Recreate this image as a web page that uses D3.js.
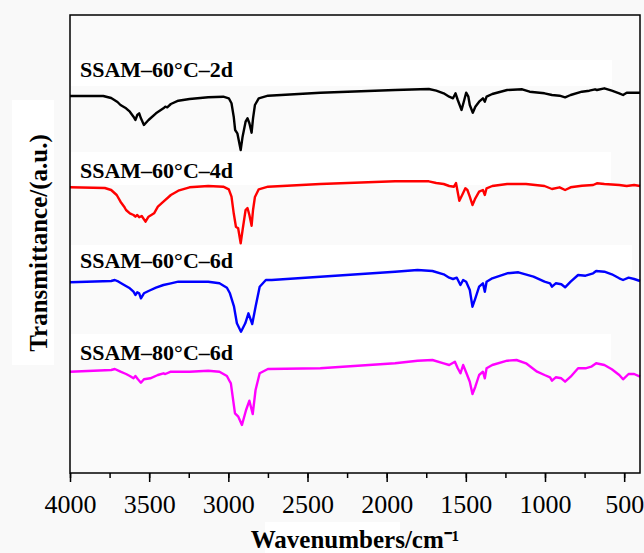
<!DOCTYPE html>
<html>
<head>
<meta charset="utf-8">
<script src="https://cdn.jsdelivr.net/npm/d3@7"></script>
<style>
  body { margin: 0; background: #f9f9f9; }
  svg { display: block; }
</style>
</head>
<body>
<svg id="ftir" width="644" height="553"></svg>
<script>
// FTIR spectra, [wavenumber (cm-1), transmittance (a.u., offset per curve)]
var names = ["SSAM\u201360\u00b0C\u20132d", "SSAM\u201360\u00b0C\u20134d", "SSAM\u201360\u00b0C\u20136d", "SSAM\u201380\u00b0C\u20136d"];
var colors = ["#000000", "#ff0000", "#0000ff", "#ff00ff"];
var xTicks = [4000, 3500, 3000, 2500, 2000, 1500, 1000, 500];

var spec2d = [[4000,404],[3790,404],[3740,402],[3700,398],[3681,395],[3646,391.7],[3622,388.3],[3599,383.3],[3587,380],[3575,385],[3563,386.7],[3552,381.7],[3533,375],[3504,380],[3457,386.7],[3410,391.7],[3398,393.3],[3386,392.7],[3363,396],[3316,399.3],[3245,401],[3127,402.7],[3032,403.3],[2997,401.7],[2980,396.7],[2966,383.3],[2957,370],[2943,366.7],[2922,350],[2910,363.3],[2891,378.3],[2879,381.7],[2867,376.7],[2853,367.3],[2844,381.7],[2832,395],[2808,401.7],[2749,404.3],[2419,407.3],[1947,410],[1734,411],[1687,409.3],[1640,406.7],[1605,403.3],[1581,401.7],[1565,406.7],[1551,400],[1527,390],[1510,400],[1498,407.3],[1484,403.3],[1475,395],[1456,387.3],[1440,393.3],[1416,398.3],[1392,401.7],[1380,398.3],[1369,403.3],[1333,406],[1239,410],[1144,410.7],[1097,408.3],[1003,406.7],[956,405],[908,404.3],[873,402.7],[838,405],[767,408.3],[720,409.3],[684,410.7],[672,410],[625,411.7],[578,409.3],[531,406.7],[507,405],[484,407.3],[400,407.3]];

var spec4d = [[4000,312.7],[3780,312],[3740,310],[3705,305],[3681,298.3],[3658,293.3],[3646,290],[3622,286.7],[3599,285],[3587,283.3],[3575,285],[3563,282.7],[3547,284],[3523,278.3],[3504,283.3],[3469,286.7],[3445,293.3],[3410,298.3],[3363,305],[3316,309.3],[3245,312.7],[3127,314],[3032,313.3],[2997,310.7],[2980,303.3],[2966,286.7],[2952,273.3],[2938,271.7],[2922,256.7],[2910,270],[2891,290],[2879,292],[2867,285],[2853,274.3],[2844,290],[2832,303],[2808,310.7],[2749,313.3],[2419,316],[1947,318.7],[1734,318.7],[1687,317],[1640,316],[1605,314],[1575,313.3],[1562,317],[1541,299.3],[1520,306],[1503,311.7],[1490,310],[1475,303.3],[1458,295],[1440,301.7],[1416,308.3],[1392,310],[1380,305],[1369,311.7],[1333,314],[1239,316],[1120,316],[1003,314],[956,311],[908,312.7],[873,310],[838,312.7],[767,314.3],[696,315],[672,316.7],[625,316],[531,315],[484,314],[437,315],[400,314]];

var spec6d = [[4000,217.7],[3740,219],[3717,220],[3693,218.3],[3658,215],[3622,211.7],[3599,208.3],[3587,205],[3575,207.7],[3563,206.7],[3552,201.7],[3533,206.7],[3504,209],[3457,212.3],[3410,215],[3363,216.7],[3316,218.3],[3245,218.3],[3127,218.3],[3056,216.7],[3009,212.3],[2990,206.7],[2964,193.3],[2946,176.7],[2920,168.3],[2893,176.7],[2873,186.7],[2849,176],[2828,193.3],[2802,213.3],[2763,220],[2726,220],[2419,223.3],[1947,228.3],[1805,230],[1711,229],[1640,225.7],[1605,222.3],[1581,221],[1557,222.3],[1534,215],[1517,220],[1498,218.3],[1475,210],[1458,193.3],[1440,201.7],[1416,213.3],[1392,216.7],[1380,208.3],[1369,218.3],[1333,221.7],[1239,226.7],[1168,227.7],[1073,223.3],[1003,218.3],[968,216.7],[956,213.3],[932,216.7],[897,215.7],[873,212.7],[838,218.3],[791,225],[744,224.3],[696,226.7],[677,229],[625,228.3],[578,225.7],[531,221.7],[507,220],[472,222.3],[437,221],[400,219]];

var spec80 = [[4000,128.3],[3740,130],[3717,131],[3681,128.3],[3646,126],[3622,124],[3599,121.7],[3587,124],[3571,120.7],[3552,117.3],[3533,120.7],[3493,121.7],[3445,125],[3410,126.7],[3398,126],[3363,128.3],[3245,128.3],[3127,129.3],[3056,128.3],[3009,124],[2990,118.3],[2984,116.7],[2958,86.7],[2937,83.3],[2914,75],[2888,90],[2867,99.3],[2846,86],[2828,110],[2802,126.7],[2750,131],[2419,131.7],[1947,136.7],[1805,139.3],[1711,140],[1640,136.7],[1605,135],[1569,138.3],[1551,131.7],[1534,126.7],[1517,135],[1494,126],[1475,118.3],[1458,106],[1440,113.3],[1416,125],[1392,128.3],[1380,121.7],[1369,131.7],[1333,135],[1239,139.3],[1180,140],[1120,136.7],[1050,128.3],[1003,125],[968,122.7],[956,119.3],[932,122.7],[897,121.7],[873,118.3],[838,123.3],[791,131.7],[744,131.7],[708,133.3],[677,136.7],[625,135],[578,130.7],[531,125],[507,120.7],[472,126],[437,126],[400,123.3]];

var spectra = [spec2d, spec4d, spec6d, spec80];

var svg = d3.select("#ftir");
var margin = {left: 70, right: 4, top: 15, bottom: 80};
var width = 644, height = 553;

var x = d3.scaleLinear()
          .domain([4000, 400])
          .range([margin.left, width - margin.right]);
var y = d3.scaleLinear()
          .domain([27, 485])
          .range([height - margin.bottom, margin.top]);

// plot background
svg.append("rect")
    .attr("x", margin.left)
    .attr("y", margin.top)
    .attr("width", width - margin.right - margin.left)
    .attr("height", height - margin.bottom - margin.top)
    .attr("fill", "#fafafa");

// white boxes behind the sample names
var boxes = [
  {y0: 60, y1: 86, x1: 612},
  {y0: 152, y1: 185, x1: 611},
  {y0: 245, y1: 270, x1: 632},
  {y0: 334, y1: 360, x1: 611}
];
var labelBase = [77, 178, 268, 360];

svg.selectAll(".label-box")
  .data(boxes)
  .enter()
  .append("rect")
    .classed("label-box", true)
    .attr("x", margin.left + 1)
    .attr("y", d => d.y0)
    .attr("width", d => d.x1 - margin.left - 1)
    .attr("height", d => d.y1 - d.y0)
    .attr("fill", "#ffffff");

var line = d3.line()
              .x(d => x(d[0]))
              .y(d => y(d[1]));

svg.append("g")
  .selectAll("path")
  .data(spectra)
  .enter()
  .append("path")
    .attr("d", line)
    .attr("fill", "none")
    .attr("stroke", (d, i) => colors[i])
    .attr("stroke-width", 2.4)
    .attr("stroke-linejoin", "round");

svg.selectAll(".name")
  .data(names)
  .enter()
  .append("text")
    .classed("name", true)
    .attr("x", 80)
    .attr("y", (d, i) => labelBase[i])
    .style("font-family", "'Liberation Serif', 'Times New Roman', serif")
    .style("font-weight", "bold")
    .style("font-size", "22px")
    .text(d => d);

// frame
svg.append("rect")
    .attr("x", margin.left)
    .attr("y", margin.top)
    .attr("width", width - margin.right - margin.left)
    .attr("height", height - margin.bottom - margin.top)
    .attr("fill", "none")
    .attr("stroke", "#000")
    .attr("stroke-width", 1.5);

// minor ticks every 250
svg.append("g")
    .attr("transform", "translate(0," + (height - margin.bottom) + ")")
    .call(d3.axisBottom(x).tickValues(d3.range(4000, 399, -250)).tickSize(5).tickFormat(""))
    .call(g => g.select(".domain").remove())
    .selectAll("line").attr("stroke-width", 1.5);

var xAxis = svg.append("g")
    .attr("transform", "translate(0," + (height - margin.bottom) + ")")
    .call(d3.axisBottom(x).tickValues(xTicks).tickSize(9).tickPadding(13).tickFormat(d3.format("d")));
xAxis.select(".domain").remove();
xAxis.selectAll("line").attr("stroke-width", 1.5);
xAxis.selectAll("text")
    .style("font-family", "'Liberation Serif', 'Times New Roman', serif")
    .style("font-size", "26px")
    .attr("fill", "#000");

// axis titles
svg.append("rect")
    .attr("x", 12).attr("y", 100).attr("width", 42).attr("height", 265)
    .attr("fill", "#ffffff");
svg.append("text")
    .attr("transform", "translate(47," + 243 + ") rotate(-90)")
    .style("text-anchor", "middle")
    .style("font-family", "'Liberation Serif', 'Times New Roman', serif")
    .style("font-weight", "bold")
    .style("font-size", "25px")
    .text("Transmittance/(a.u.)");

svg.append("rect")
    .attr("x", 265).attr("y", 522).attr("width", 135).attr("height", 31)
    .attr("fill", "#ffffff");
svg.append("text")
    .attr("x", (margin.left + width - margin.right) / 2)
    .attr("y", 548)
    .style("text-anchor", "middle")
    .style("font-family", "'Liberation Serif', 'Times New Roman', serif")
    .style("font-weight", "bold")
    .style("font-size", "25px")
    .text("Wavenumbers/cm\u207b\u00b9");
</script>
</body>
</html>
